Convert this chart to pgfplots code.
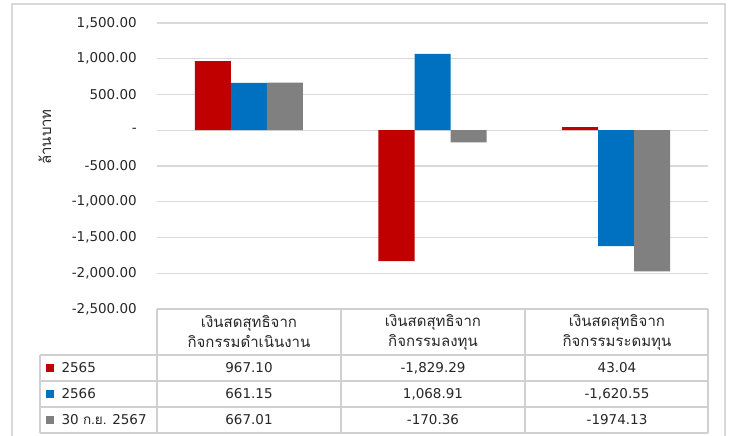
\documentclass[border=0pt]{standalone}
\usepackage{fontspec}
\setmainfont{DejaVu Sans}
\newfontfamily\thai[Script=Thai]{Loma}
\usepackage{pgfplots}
\pgfplotsset{compat=1.18}
\definecolor{cRed}{HTML}{C00000}
\definecolor{cBlue}{HTML}{0070C0}
\definecolor{cGray}{HTML}{808080}
\definecolor{gridc}{HTML}{D9D9D9}
\definecolor{linec}{HTML}{D0D0D0}
\definecolor{txt}{HTML}{262626}

\pgfplotstableread{
x val
0 967.10
1 -1829.29
2 43.04
}\tA
\pgfplotstableread{
x val
0 661.15
1 1068.91
2 -1620.55
}\tB
\pgfplotstableread{
x val
0 667.01
1 -170.36
2 -1974.13
}\tC

\begin{document}
\begin{tikzpicture}[x=1pt,y=1pt]
\path[use as bounding box] (0,0) rectangle (729,436);
\draw[gridc, line width=1.2pt] (12,0) -- (12,432) -- (725,432) -- (725,0);

\begin{axis}[
    at={(157pt,127pt)}, anchor=south west,
    scale only axis, width=551pt, height=286pt,
    ybar=0pt, bar width=36pt,
    xmin=-0.5, xmax=2.5, xtick=\empty,
    ymin=-2500, ymax=1500,
    ytick={-2500,-2000,-1500,-1000,-500,0,500,1000,1500},
    yticklabels={{-2,500.00},{-2,000.00},{-1,500.00},{-1,000.00},{-500.00},{-\hspace{9pt}},{500.00},{1,000.00},{1,500.00}},
    yticklabel style={anchor=east, inner sep=0pt, xshift=-20pt, text=txt, font=\fontsize{13.5}{16}\selectfont},
    ymajorgrids, major grid style={gridc, line width=1.2pt},
    axis line style={draw=none}, tick style={draw=none},
    clip=false,
]
\addplot[fill=cRed, draw=none] table[x=x, y=val] {\tA};
\addplot[fill=cBlue, draw=none] table[x=x, y=val] {\tB};
\addplot[fill=cGray, draw=none] table[x=x, y=val] {\tC};
\end{axis}

% y label
\node[rotate=90, text=txt, font=\thai\fontsize{15}{17}\selectfont] at (45,299) {ล้านบาท};

% data table grid
\begin{scope}[linec, line width=1.2pt]
\draw (157,127) -- (708,127);
\foreach \y in {81,55,29,3} \draw (40,\y) -- (708,\y);
\draw (40,81) -- (40,3);
\foreach \x in {157,341,525,708} \draw (\x,127) -- (\x,3);
\end{scope}

% headers
\foreach \x/\b in {249/กิจกรรมดำเนินงาน, 433/กิจกรรมลงทุน, 617/กิจกรรมระดมทุน}
  \node[align=center, text=txt, font=\thai\fontsize{15}{20}\selectfont] at (\x,104) {เงินสดสุทธิจาก\\\b};

% legend column
\fill[cRed] (46,64) rectangle (54,72);
\fill[cBlue] (46,38) rectangle (54,46);
\fill[cGray] (46,12) rectangle (54,20);
\begin{scope}[every node/.style={anchor=west, text=txt, font=\fontsize{13.5}{16}\selectfont}]
\node at (58,68) {2565};
\node at (58,42) {2566};
\node at (58,16) {30 {\thai ก.ย.} 2567};
\end{scope}

% values
\begin{scope}[every node/.style={text=txt, font=\fontsize{13.5}{16}\selectfont}]
\node at (249,68) {967.10};
\node at (433,68) {-1,829.29};
\node at (617,68) {43.04};
\node at (249,42) {661.15};
\node at (433,42) {1,068.91};
\node at (617,42) {-1,620.55};
\node at (249,16) {667.01};
\node at (433,16) {-170.36};
\node at (617,16) {-1974.13};
\end{scope}
\end{tikzpicture}
\end{document}
